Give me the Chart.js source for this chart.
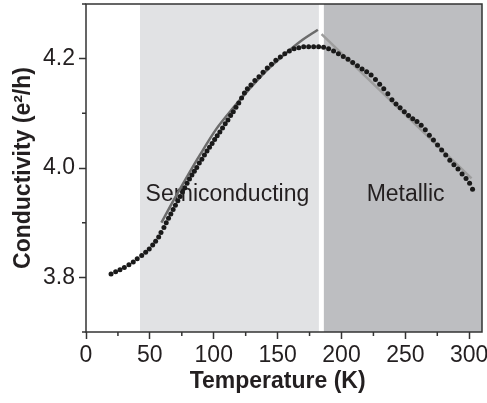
<!DOCTYPE html>
<html>
<head>
<meta charset="utf-8">
<script src="https://cdn.jsdelivr.net/npm/chart.js@4.4.1/dist/chart.umd.min.js"></script>
<style>
  html, body { margin: 0; padding: 0; background: #fff; }
</style>
</head>
<body>
<canvas id="chart" width="487" height="403"></canvas>
<script>
// measured conductivity vs temperature
const temps = [19.6, 23.2, 26.6, 30.0, 33.6, 37.0, 40.1, 43.6, 46.7, 49.5, 52.2, 54.5, 56.9, 58.7, 61.0, 62.8,
  64.6, 66.4, 68.2, 70.0, 71.9, 73.7, 75.5, 77.3, 79.1, 81.0, 82.9, 84.8, 86.7, 88.7, 90.7, 92.7, 94.7, 96.7,
  98.7, 100.7, 102.7, 104.8, 106.9, 109.0, 111.1, 113.2, 115.3, 117.4, 119.6, 121.8, 124.0, 126.3, 129.1,
  132.2, 135.4, 138.6, 141.9, 145.2, 148.6, 152.1, 155.6, 159.2, 162.9, 166.6, 170.4, 174.3, 178.2, 182.1,
  186.0, 189.9, 193.8, 197.6, 201.4, 205.1, 208.8, 212.5, 216.1, 219.7, 223.2, 226.6, 229.9, 233.1, 236.3,
  239.5, 242.7, 245.9, 249.2, 252.5, 255.8, 259.1, 262.4, 265.6, 268.8, 272.0, 275.2, 278.4, 281.6, 284.8,
  288.0, 291.2, 294.4, 297.5, 300.3, 302.6];
const cond = [3.806, 3.810, 3.814, 3.818, 3.823, 3.828, 3.834, 3.840, 3.846, 3.852, 3.859, 3.866, 3.874, 3.882, 3.891, 3.900,
  3.908, 3.916, 3.924, 3.932, 3.940, 3.948, 3.956, 3.964, 3.972, 3.980, 3.987, 3.994, 4.001, 4.009, 4.016, 4.024, 4.031, 4.038,
  4.045, 4.052, 4.059, 4.066, 4.073, 4.081, 4.088, 4.096, 4.103, 4.111, 4.119, 4.128, 4.137, 4.145, 4.152,
  4.160, 4.167, 4.175, 4.183, 4.190, 4.197, 4.203, 4.209, 4.214, 4.218, 4.220, 4.222, 4.222, 4.222, 4.222,
  4.221, 4.218, 4.214, 4.209, 4.204, 4.199, 4.193, 4.187, 4.181, 4.176, 4.170, 4.162, 4.153, 4.145, 4.136,
  4.125, 4.117, 4.110, 4.103, 4.096, 4.090, 4.085, 4.078, 4.070, 4.060, 4.051, 4.042, 4.033, 4.024, 4.014,
  4.006, 3.998, 3.989, 3.981, 3.972, 3.961];

// fit curves
const semiFitT = [59, 68.3, 78.8, 89.2, 102.2, 115.2, 127, 140, 155, 168, 181.5];
const semiFitG = [3.900, 3.940, 3.983, 4.024, 4.072, 4.110, 4.142, 4.175, 4.207, 4.232, 4.253];
const metFitT = [184.4, 301.8];
const metFitG = [4.245, 3.981];

// shaded regimes
const regionNames = ['Semiconducting', 'Metallic'];
const regionSpans = [[42.3, 182.3], [186.2, 310]];
const regionColors = ['#e1e2e4', '#bdbec1'];

// ticks
const xMajor = [0, 50, 100, 150, 200, 250, 300];
const xMinor = [25, 75, 125, 175, 225, 275];
const yMajor = [3.8, 4.0, 4.2];
const yMinor = [3.7, 3.9, 4.1, 4.3];

const ink = '#231f20';
const axisCol = '#333333';
Chart.defaults.font.family = '"Liberation Sans", Arial, Helvetica, sans-serif';
Chart.defaults.font.size = 23;
Chart.defaults.color = ink;

const shading = {
  id: 'shading',
  beforeDatasetsDraw(chart) {
    const {ctx, chartArea: a, scales: {x, y}} = chart;
    ctx.save();
    regionSpans.forEach((r, i) => {
      const x0 = x.getPixelForValue(r[0]);
      const x1 = x.getPixelForValue(r[1]);
      ctx.fillStyle = regionColors[i];
      ctx.fillRect(x0, a.top, x1 - x0, a.bottom - a.top);
    });
    ctx.font = '23px "Liberation Sans", Arial, sans-serif';
    ctx.fillStyle = ink;
    ctx.textAlign = 'center';
    ctx.textBaseline = 'middle';
    const labelT = [110.7, 250.2];
    regionNames.forEach((n, i) => {
      ctx.fillText(n, x.getPixelForValue(labelT[i]), y.getPixelForValue(3.951));
    });
    ctx.restore();
  }
};

const frame = {
  id: 'frame',
  afterDraw(chart) {
    const {ctx, chartArea: a, scales: {x, y}} = chart;
    ctx.save();
    ctx.strokeStyle = axisCol;
    ctx.lineWidth = 1.5;
    ctx.strokeRect(a.left, a.top, a.right - a.left, a.bottom - a.top);
    ctx.beginPath();
    xMinor.forEach(v => {
      const px = x.getPixelForValue(v);
      ctx.moveTo(px, a.bottom);
      ctx.lineTo(px, a.bottom + 4);
    });
    yMinor.forEach(v => {
      const py = y.getPixelForValue(v);
      ctx.moveTo(a.left - 4, py);
      ctx.lineTo(a.left, py);
    });
    ctx.stroke();
    ctx.restore();
  }
};

new Chart('chart', {
  type: 'scatter',
  data: {
    datasets: [
      {
        data: temps.map((t, i) => ({x: t, y: cond[i]})),
        showLine: false,
        pointRadius: 2.5,
        pointBackgroundColor: '#1a1a1a',
        pointBorderWidth: 0,
        order: 0
      },
      {
        data: semiFitT.map((t, i) => ({x: t, y: semiFitG[i]})),
        showLine: true,
        borderColor: '#6b6b6b',
        borderWidth: 2.5,
        pointRadius: 0,
        tension: 0.3,
        order: 1
      },
      {
        data: metFitT.map((t, i) => ({x: t, y: metFitG[i]})),
        showLine: true,
        borderColor: '#9d9d9d',
        borderWidth: 2.5,
        pointRadius: 0,
        order: 2
      }
    ]
  },
  options: {
    responsive: false,
    animation: false,
    devicePixelRatio: 1,
    layout: {padding: {top: 4, right: 5, left: 0, bottom: 0}},
    plugins: {legend: {display: false}, tooltip: {enabled: false}},
    scales: {
      x: {
        type: 'linear',
        min: 0,
        max: 310,
        afterBuildTicks: s => { s.ticks = xMajor.map(v => ({value: v})); },
        afterFit: s => { s.height = 71; s.paddingLeft = 0; s.paddingRight = 0; },
        ticks: {padding: 3, maxRotation: 0, autoSkip: false, callback: v => String(v)},
        grid: {drawOnChartArea: false, drawTicks: true, tickLength: 7, tickWidth: 1.5, tickColor: axisCol, color: axisCol},
        border: {display: false},
        title: {display: true, text: 'Temperature (K)  ', font: {size: 23, weight: 'bold'}, padding: {top: 0, bottom: 8}, color: ink}
      },
      y: {
        type: 'linear',
        min: 3.7,
        max: 4.3,
        afterBuildTicks: s => { s.ticks = yMajor.map(v => ({value: v})); },
        afterFit: s => { s.width = 86; s.paddingTop = 0; s.paddingBottom = 0; },
        ticks: {padding: 4, callback: v => v.toFixed(1)},
        grid: {drawOnChartArea: false, drawTicks: true, tickLength: 7, tickWidth: 1.5, tickColor: axisCol, color: axisCol},
        border: {display: false},
        title: {display: true, text: 'Conductivity (e²/h)', font: {size: 23, weight: 'bold'}, padding: {top: 10, bottom: 0}, color: ink}
      }
    }
  },
  plugins: [shading, frame]
});
</script>
</body>
</html>
